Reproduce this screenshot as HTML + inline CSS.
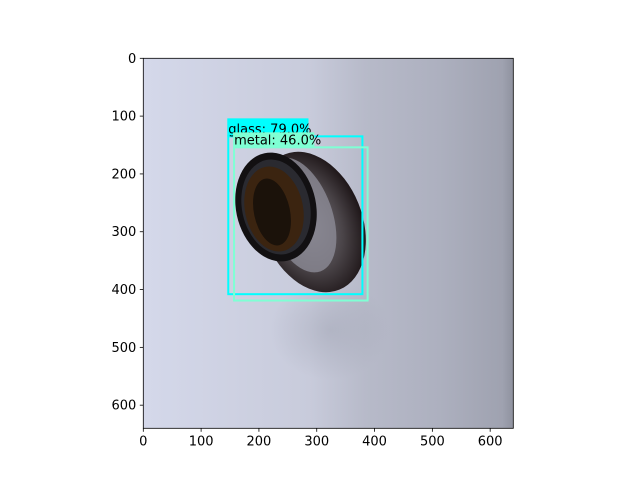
<!DOCTYPE html>
<html><head><meta charset="utf-8"><style>
body{margin:0;background:#fff;font-family:"Liberation Sans",sans-serif}
svg text{font-family:"DejaVu Sans","Liberation Sans",sans-serif}
</style></head><body>
<svg width="640" height="480" viewBox="0 0 640 480" id="fig">
<defs>
<linearGradient id="bg" x1="0" y1="0" x2="1" y2="0">
<stop offset="0" stop-color="#d4d8ea"/><stop offset="0.45" stop-color="#c8cbdb"/>
<stop offset="0.6" stop-color="#b7bac9"/><stop offset="0.8" stop-color="#adb0bf"/>
<stop offset="0.97" stop-color="#9fa2b0"/><stop offset="1" stop-color="#8f929f"/></linearGradient>
<radialGradient id="shade" cx="0.5" cy="0.5" r="0.5"><stop offset="0" stop-color="#9a9dac" stop-opacity="0.4"/><stop offset="1" stop-color="#9a9dac" stop-opacity="0"/></radialGradient>
<radialGradient id="body" cx="0.45" cy="0.5" r="0.55"><stop offset="0" stop-color="#7c7a84"/><stop offset="0.6" stop-color="#4a4448"/><stop offset="1" stop-color="#1e1618"/></radialGradient>
</defs>
<g id="plot"></g>
</svg>
<script>
const imgW=640, imgH=640;
const xTicks=[0,100,200,300,400,500,600];
const yTicks=[0,100,200,300,400,500,600];
const boxLabels=["glass: 79.0%","metal: 46.0%"];
const boxX1=[147,157];
const boxY1=[135,154];
const boxX2=[379,388];
const boxY2=[408,419];
const boxColors=["#00ffff","#7fffd4"];
const L=143.3,T=58.3,W=370,H=370;
const sx=v=>L+v/imgW*W, sy=v=>T+v/imgH*H;
const NS="http://www.w3.org/2000/svg";
const g=document.getElementById('plot');
function mk(t,a,p){const e=document.createElementNS(NS,t);for(const k in a)e.setAttribute(k,a[k]);(p||g).appendChild(e);return e;}
let im=mk('g',{});


mk('rect',{x:L,y:T,width:W,height:H,fill:'url(#bg)'},im);
mk('ellipse',{cx:330,cy:330,rx:60,ry:50,fill:'url(#shade)'},im);
mk('ellipse',{cx:312,cy:222,rx:50,ry:73,fill:'url(#body)',transform:'rotate(-22 312 222)'},im);
mk('ellipse',{cx:300,cy:215,rx:32,ry:60,fill:'#8c8b96',opacity:0.8,transform:'rotate(-20 300 215)'},im);
mk('ellipse',{cx:276,cy:207,rx:40,ry:55,fill:'#121012',transform:'rotate(-12 276 207)'},im);
mk('ellipse',{cx:276,cy:207,rx:34,ry:48,fill:'#2a2a30',transform:'rotate(-12 276 207)'},im);
mk('ellipse',{cx:274,cy:209,rx:29,ry:43,fill:'#3b2410',transform:'rotate(-12 274 209)'},im);
mk('ellipse',{cx:272,cy:212,rx:18,ry:34,fill:'#1b120a',transform:'rotate(-12 272 212)'},im);
for(let i=0;i<boxLabels.length;i++){
 const bg=mk('g',{});
 
 
 const x1=sx(boxX1[i]),y1=sy(boxY1[i]),x2=sx(boxX2[i]),y2=sy(boxY2[i]);
 mk('rect',{x:x1,y:y1,width:x2-x1,height:y2-y1,fill:'none',stroke:boxColors[i],'stroke-width':2},bg);
 const tw=boxLabels[i].length*6.6;
 mk('rect',{x:x1-1,y:y1-18+(i?3:0),width:tw+2,height:18-(i?3:0),fill:boxColors[i]},bg);
 const t=mk('text',{x:x1,y:y1-3,'font-size':13,fill:'#000','font-family':'Liberation Sans, sans-serif'},bg);
 t.textContent=boxLabels[i];
 
 
}
const fr=mk('rect',{x:L,y:T,width:W,height:H,fill:'none',stroke:'#000','stroke-width':0.8});


xTicks.forEach(v=>{const x=sx(v);
 mk('line',{x1:x,x2:x,y1:T+H,y2:T+H+3.5,stroke:'#000','stroke-width':0.8});
 const t=mk('text',{x:x,y:T+H+17,'font-size':13,'text-anchor':'middle'});t.textContent=v;
 
 });
yTicks.forEach(v=>{const y=sy(v);
 mk('line',{x1:L,x2:L-3.5,y1:y,y2:y,stroke:'#000','stroke-width':0.8});
 const t=mk('text',{x:L-7,y:y+4.5,'font-size':13,'text-anchor':'end'});t.textContent=v;
 
 });
</script>
</body></html>
